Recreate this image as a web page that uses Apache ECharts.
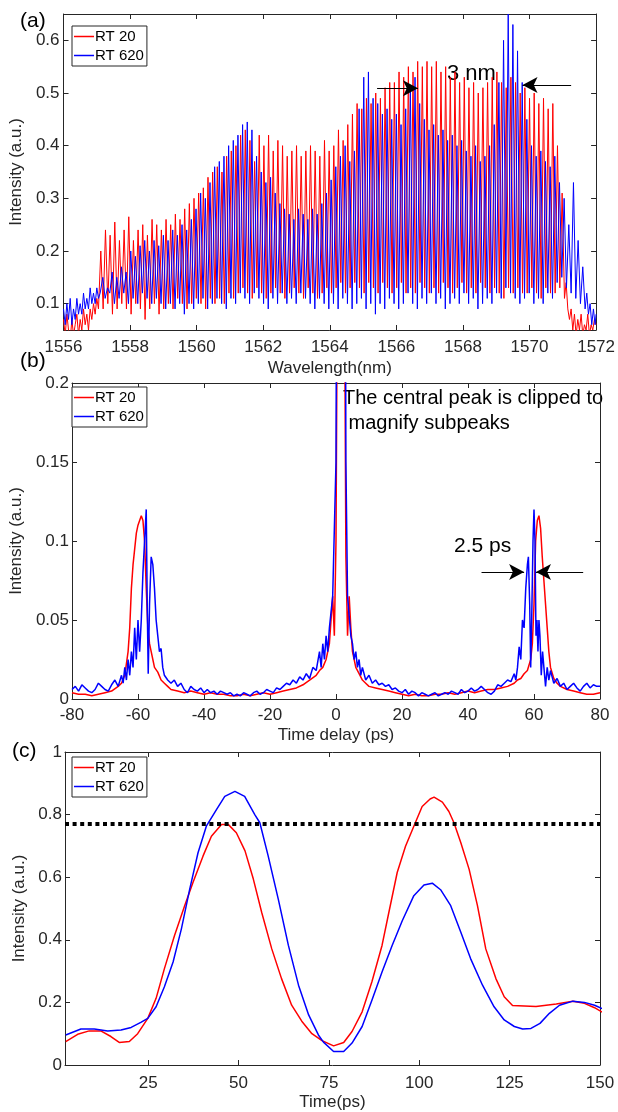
<!DOCTYPE html>
<html>
<head>
<meta charset="utf-8">
<script src="https://cdn.jsdelivr.net/npm/echarts@6/dist/echarts.min.js"></script>
<style>
  html, body { margin: 0; padding: 0; background: #fff; }
  #chart { width: 618px; height: 1112px; }
</style>
</head>
<body>
<div id="chart"></div>
<script>
// ---- (a) spectra: fringe peak / trough heights ----
const FRINGE_STEP = 0.14;          // nm between neighbouring fringes
const redFringeStart = 1557.12;
const blueFringeStart = 1557.18;

const redHead = [[1556.00,0.07],[1556.05,0.04],[1556.10,0.08],[1556.15,0.05],[1556.20,0.03],[1556.25,0.07],[1556.30,0.04],[1556.35,0.06],[1556.40,0.08],[1556.45,0.04],[1556.50,0.07],[1556.55,0.05],[1556.60,0.09],[1556.65,0.06],[1556.70,0.08],[1556.75,0.05],[1556.80,0.09],[1556.85,0.07],[1556.90,0.10],[1556.95,0.08],[1557.00,0.11],[1557.05,0.09]];
const redPeaks = [
  0.20,0.24,0.23,0.255,0.22, 0.24,0.265,0.22,0.24,0.25,
  0.23,0.26,0.25,0.24,0.26, 0.25,0.27,0.26,0.28,0.29,
  0.30,0.31,0.32,0.34,0.35, 0.36,0.35,0.38,0.39,0.40,
  0.42,0.43,0.41,0.37,0.42, 0.40,0.42,0.39,0.41,0.40,
  0.38,0.39,0.40,0.38,0.39, 0.40,0.39,0.38,0.41,0.39,
  0.40,0.43,0.41,0.44,0.46, 0.48,0.47,0.49,0.48,0.50,
  0.49,0.51,0.52,0.52,0.54, 0.53,0.55,0.54,0.56,0.55,
  0.56,0.55,0.56,0.54,0.55, 0.53,0.54,0.52,0.53,0.51,
  0.52,0.50,0.51,0.52,0.53, 0.54,0.52,0.51,0.53,0.52,
  0.50,0.51,0.49,0.50,0.48, 0.49,0.47,0.48,0.40,0.31
];
const redTroughs = [
  0.09,0.10,0.08,0.09,0.10, 0.09,0.08,0.10,0.09,0.07,
  0.09,0.10,0.08,0.09,0.10, 0.09,0.11,0.10,0.09,0.10,
  0.11,0.10,0.09,0.11,0.10, 0.11,0.10,0.12,0.11,0.12,
  0.13,0.12,0.11,0.13,0.12, 0.11,0.12,0.13,0.12,0.11,
  0.12,0.13,0.12,0.11,0.13, 0.12,0.11,0.12,0.13,0.12,
  0.13,0.14,0.12,0.13,0.14, 0.13,0.12,0.14,0.13,0.12,
  0.14,0.13,0.12,0.13,0.14, 0.12,0.13,0.12,0.14,0.13,
  0.12,0.13,0.12,0.14,0.13, 0.12,0.13,0.14,0.12,0.13,
  0.12,0.14,0.13,0.12,0.13, 0.12,0.11,0.13,0.12,0.13,
  0.12,0.12,0.13,0.12,0.11, 0.13,0.12,0.12,0.13,0.11
];
const redTail = [[1571.10,0.14],[1571.15,0.09],[1571.20,0.07],[1571.25,0.09],[1571.30,0.05],[1571.35,0.08],[1571.40,0.04],[1571.45,0.07],[1571.50,0.05],[1571.55,0.08],[1571.60,0.04],[1571.65,0.06],[1571.70,0.05],[1571.75,0.08],[1571.80,0.04],[1571.85,0.06],[1571.90,0.05],[1571.95,0.07],[1572.00,0.06]];

const blueHead = [[1556.00,0.09],[1556.05,0.06],[1556.10,0.10],[1556.15,0.07],[1556.20,0.11],[1556.25,0.06],[1556.30,0.09],[1556.35,0.07],[1556.40,0.11],[1556.45,0.08],[1556.50,0.10],[1556.55,0.08],[1556.60,0.12],[1556.65,0.09],[1556.70,0.11],[1556.75,0.09],[1556.80,0.13],[1556.85,0.10],[1556.90,0.12],[1556.95,0.10],[1557.00,0.13],[1557.05,0.11],[1557.10,0.12]];
const bluePeaks = [
  0.15,0.13,0.16,0.15,0.17, 0.16,0.20,0.19,0.21,0.22,
  0.20,0.22,0.21,0.23,0.22, 0.24,0.23,0.25,0.24,0.26,
  0.28,0.31,0.30,0.33,0.36, 0.37,0.38,0.40,0.41,0.42,
  0.44,0.445,0.43,0.38,0.35, 0.33,0.34,0.31,0.29,0.28,
  0.27,0.26,0.28,0.27,0.26, 0.28,0.27,0.29,0.31,0.335,
  0.36,0.38,0.40,0.37,0.39, 0.47,0.53,0.54,0.49,0.48,
  0.46,0.47,0.45,0.46,0.44, 0.47,0.51,0.53,0.48,0.45,
  0.43,0.44,0.42,0.43,0.41, 0.42,0.40,0.41,0.39,0.38,
  0.40,0.37,0.38,0.40,0.44, 0.52,0.60,0.65,0.63,0.58,
  0.52,0.45,0.40,0.38,0.39, 0.37,0.36,0.38,0.33,0.30,
  0.25,0.33,0.22,0.17
];
const blueTroughs = [
  0.11,0.12,0.10,0.11,0.12, 0.10,0.11,0.10,0.12,0.11,
  0.10,0.11,0.10,0.09,0.10, 0.09,0.10,0.08,0.10,0.09,
  0.10,0.11,0.09,0.10,0.11, 0.10,0.09,0.11,0.10,0.12,
  0.11,0.10,0.12,0.11,0.10, 0.09,0.11,0.10,0.12,0.10,
  0.11,0.10,0.12,0.11,0.10, 0.09,0.11,0.10,0.09,0.10,
  0.09,0.11,0.10,0.09,0.10, 0.11,0.09,0.10,0.08,0.10,
  0.09,0.11,0.10,0.09,0.10, 0.12,0.10,0.09,0.11,0.10,
  0.12,0.10,0.11,0.09,0.10, 0.11,0.10,0.12,0.10,0.11,
  0.09,0.10,0.11,0.10,0.12, 0.11,0.13,0.12,0.11,0.10,
  0.11,0.12,0.10,0.11,0.10, 0.12,0.11,0.14,0.15,0.13,
  0.12,0.11,0.10,0.09
];
const blueTail = [[1571.72,0.12],[1571.77,0.08],[1571.82,0.10],[1571.87,0.06],[1571.92,0.09],[1571.97,0.06],[1572.00,0.08]];

const wavelengthTicks = { min: 1556, max: 1572, interval: 2 };
const spectrumYTicks = [0.1, 0.2, 0.3, 0.4, 0.5, 0.6];
const arrowA = [[1565.42, 0.509, 1566.65, 0.509], [1571.25, 0.515, 1569.79, 0.515]];

// ---- (b) autocorrelation [delay ps, intensity] ----
const redDelay = [[-80,0.004],[-78,0.003],[-76,0.003],[-74,0.002],[-72,0.003],[-70,0.004],[-68,0.005],[-66,0.008],[-65,0.01],[-64,0.015],[-63,0.03],[-62.5,0.045],[-62,0.07],[-61.5,0.085],[-61,0.095],[-60.5,0.105],[-60,0.11],[-59.5,0.113],[-59,0.116],[-58.5,0.113],[-58,0.1],[-57.5,0.07],[-57,0.045],[-56.5,0.035],[-56,0.03],[-55.5,0.025],[-55,0.02],[-54,0.017],[-53,0.012],[-52,0.01],[-51,0.008],[-50,0.006],[-48,0.005],[-46,0.004],[-44,0.005],[-42,0.004],[-40,0.003],[-38,0.004],[-36,0.003],[-34,0.003],[-32,0.002],[-30,0.002],[-28,0.003],[-26,0.002],[-24,0.003],[-22,0.004],[-20,0.003],[-18,0.004],[-16,0.005],[-14,0.006],[-12,0.007],[-10,0.009],[-8,0.012],[-6,0.015],[-5,0.018],[-4,0.02],[-3,0.025],[-2,0.035],[-1.5,0.05],[-1,0.065],[-0.5,0.04],[0,0.1],[0.5,0.3],[1,0.8],[1.5,1],[2,0.8],[2.5,0.3],[3,0.09],[3.5,0.04],[4,0.065],[4.5,0.045],[5,0.03],[6,0.02],[7,0.016],[8,0.012],[9,0.01],[10,0.008],[12,0.007],[14,0.006],[16,0.005],[18,0.004],[20,0.003],[22,0.002],[24,0.003],[26,0.002],[28,0.002],[30,0.003],[32,0.003],[34,0.004],[36,0.003],[38,0.004],[40,0.005],[42,0.004],[44,0.005],[46,0.006],[48,0.006],[50,0.007],[52,0.008],[54,0.01],[55,0.012],[56,0.013],[57,0.016],[58,0.018],[59,0.025],[59.5,0.035],[60,0.06],[60.5,0.1],[61,0.113],[61.5,0.116],[62,0.108],[62.5,0.09],[63,0.075],[63.5,0.06],[64,0.045],[64.5,0.03],[65,0.02],[66,0.013],[67,0.01],[68,0.008],[70,0.006],[72,0.005],[74,0.004],[76,0.003],[78,0.003],[80,0.004]];
const blueDelay = [[-80,0.006],[-79,0.008],[-78,0.005],[-77,0.009],[-76,0.007],[-75,0.005],[-74,0.004],[-73,0.006],[-72,0.01],[-71,0.008],[-70,0.006],[-69,0.005],[-68,0.009],[-67,0.012],[-66,0.008],[-65,0.015],[-64.5,0.01],[-64,0.02],[-63.5,0.012],[-63,0.025],[-62.5,0.015],[-62,0.03],[-61.5,0.02],[-61,0.045],[-60.5,0.025],[-60,0.05],[-59.5,0.03],[-59,0.05],[-58.5,0.08],[-58,0.1],[-57.5,0.12],[-57.2,0.06],[-56.9,0.016],[-56.5,0.06],[-56,0.09],[-55.5,0.085],[-55,0.07],[-54.5,0.05],[-54,0.04],[-53.5,0.03],[-53,0.032],[-52.5,0.02],[-52,0.015],[-51,0.012],[-50,0.01],[-49,0.012],[-48,0.008],[-47,0.01],[-46,0.006],[-45,0.004],[-44,0.008],[-43,0.006],[-42,0.005],[-41,0.007],[-40,0.004],[-39,0.006],[-38,0.004],[-37,0.005],[-36,0.003],[-35,0.005],[-34,0.004],[-33,0.003],[-32,0.004],[-31,0.002],[-30,0.003],[-29,0.002],[-28,0.004],[-27,0.003],[-26,0.002],[-25,0.004],[-24,0.005],[-23,0.003],[-22,0.004],[-21,0.006],[-20,0.005],[-19,0.004],[-18,0.007],[-17,0.006],[-16,0.008],[-15,0.01],[-14,0.009],[-13,0.012],[-12,0.01],[-11,0.014],[-10,0.012],[-9,0.016],[-8,0.013],[-7,0.02],[-6,0.018],[-5,0.03],[-4.5,0.02],[-4,0.035],[-3.5,0.025],[-3,0.04],[-2.5,0.03],[-2,0.045],[-1.5,0.055],[-1,0.065],[-0.5,0.065],[0,0.15],[0.5,0.5],[1,1],[1.5,0.9],[2,1],[2.5,0.6],[3,0.15],[3.5,0.065],[4,0.065],[4.5,0.04],[5,0.035],[5.5,0.025],[6,0.03],[6.5,0.02],[7,0.025],[7.5,0.015],[8,0.02],[9,0.012],[10,0.015],[11,0.01],[12,0.012],[13,0.009],[14,0.01],[15,0.008],[16,0.009],[17,0.006],[18,0.007],[19,0.005],[20,0.004],[21,0.006],[22,0.003],[23,0.005],[24,0.004],[25,0.002],[26,0.004],[27,0.003],[28,0.002],[29,0.003],[30,0.004],[31,0.002],[32,0.003],[33,0.004],[34,0.003],[35,0.005],[36,0.004],[37,0.003],[38,0.006],[39,0.004],[40,0.005],[41,0.007],[42,0.005],[43,0.006],[44,0.008],[45,0.006],[46,0.004],[47,0.003],[48,0.005],[49,0.009],[50,0.008],[51,0.01],[52,0.012],[53,0.011],[54,0.016],[54.5,0.012],[55,0.02],[55.5,0.033],[56,0.025],[56.5,0.05],[57,0.045],[57.5,0.07],[58,0.085],[58.3,0.09],[58.7,0.06],[59,0.02],[59.3,0.05],[59.7,0.1],[60,0.12],[60.3,0.1],[60.6,0.04],[60.9,0.05],[61.2,0.03],[61.5,0.05],[61.8,0.04],[62.2,0.015],[62.6,0.03],[63,0.02],[63.5,0.008],[64,0.02],[64.5,0.012],[65,0.018],[66,0.01],[67,0.013],[68,0.008],[69,0.01],[70,0.006],[71,0.008],[72,0.01],[73,0.007],[74,0.005],[75,0.008],[76,0.01],[77,0.007],[78,0.009],[79,0.008],[80,0.008]];
const delayTicks = { min: -80, max: 80, interval: 20 };
const acfYTicks = { min: 0, max: 0.2, interval: 0.05 };
const arrowB = [[44.1, 0.0804, 57.0, 0.0804], [74.9, 0.0804, 60.6, 0.0804]];

// ---- (c) pulse profiles [time ps, intensity] ----
const redTime = [[2.2,0.075],[5.5,0.098],[8.7,0.109],[11.9,0.109],[14.7,0.091],[17,0.072],[19.8,0.075],[22.1,0.1],[24.9,0.149],[27.2,0.213],[29.5,0.308],[32.3,0.414],[35.1,0.509],[37.4,0.583],[40.2,0.668],[42.5,0.731],[45.3,0.768],[47.2,0.768],[49.4,0.742],[51.8,0.684],[54.1,0.594],[56.4,0.488],[59.2,0.371],[61.9,0.276],[64.7,0.191],[67.5,0.14],[70.3,0.1],[73.1,0.078],[76.3,0.061],[79.1,0.072],[81.4,0.107],[84.2,0.17],[86.9,0.266],[89.7,0.382],[91.6,0.488],[93.9,0.615],[96.2,0.699],[98.5,0.763],[100.8,0.826],[103,0.85],[104.1,0.856],[106.4,0.84],[108.2,0.81],[109.6,0.774],[111.5,0.71],[113.8,0.625],[116.1,0.509],[118.4,0.371],[121.2,0.276],[123.5,0.218],[125.8,0.19],[132.3,0.187],[137.9,0.195],[142.5,0.204],[145.7,0.197],[148.5,0.183],[150.6,0.169]];
const blueTime = [[2.2,0.096],[6.4,0.115],[10.1,0.115],[13.8,0.109],[17.5,0.112],[20.3,0.12],[23.1,0.137],[24.9,0.149],[27.2,0.186],[29.5,0.25],[31.9,0.329],[34.2,0.435],[36.5,0.562],[38.8,0.678],[41.1,0.763],[43.9,0.816],[46.2,0.858],[49,0.874],[51.7,0.858],[54.5,0.8],[55.9,0.774],[58.2,0.668],[61,0.53],[63.8,0.382],[66.6,0.255],[69.4,0.16],[72.1,0.096],[73.5,0.073],[76.3,0.043],[79.1,0.043],[81.4,0.07],[84.2,0.123],[86.9,0.207],[89.7,0.297],[92.5,0.382],[95.3,0.461],[98.5,0.541],[101.3,0.575],[103.6,0.581],[105.9,0.56],[108.7,0.509],[111.5,0.424],[114.2,0.34],[117.5,0.255],[120.7,0.186],[123.5,0.144],[126.3,0.123],[128.6,0.115],[130.9,0.117],[133.4,0.133],[136,0.165],[138.8,0.191],[142.5,0.204],[145.7,0.2],[148.5,0.191],[150.6,0.18]];
const timeXTicks = [25, 50, 75, 100, 125, 150];
const thresholdLevel = 0.768;

const seriesNames = ['RT 20', 'RT 620'];
const RED = '#ff0000', BLUE = '#0000ff', AX = '#262626';
const FONT = '"Liberation Sans", Arial, sans-serif';

function buildSpectrum(head, start, peaks, troughs, tail) {
  const pts = head.slice();
  peaks.forEach((p, i) => {
    const x = start + i * FRINGE_STEP;
    pts.push([+x.toFixed(3), p]);
    if (i < troughs.length) pts.push([+(x + FRINGE_STEP / 2).toFixed(3), troughs[i]]);
  });
  return pts.concat(tail);
}

function axis(gridIndex, position, range, opts) {
  opts = opts || {};
  const ax = {
    type: 'value', gridIndex, position,
    min: range.min, max: range.max,
    axisLine: { show: true, onZero: false, lineStyle: { color: AX, width: 1 } },
    axisTick: { show: true, inside: true, length: 5, lineStyle: { color: AX, width: 1 } },
    axisLabel: { show: !!opts.labels, color: AX, fontSize: 17, fontFamily: FONT, margin: opts.margin || 6,
      formatter: v => String(+v.toFixed(4)) },
    splitLine: { show: false }
  };
  if (range.ticks) {
    ax.axisTick.customValues = range.ticks;
    ax.axisLabel.customValues = range.ticks;
  } else {
    ax.interval = range.interval;
  }
  if (opts.name) {
    ax.name = opts.name;
    ax.nameLocation = 'middle';
    ax.nameGap = opts.nameGap;
    ax.nameTextStyle = { color: AX, fontSize: 17, fontFamily: FONT };
  }
  return ax;
}

function legend(top) {
  return {
    data: seriesNames, orient: 'vertical', left: 72, top,
    icon: 'rect', itemWidth: 20, itemHeight: 1.5, itemGap: 4,
    padding: [3, 3, 3, 2], borderColor: AX, borderWidth: 1, backgroundColor: '#fff',
    textStyle: { fontSize: 15, color: '#000', fontFamily: FONT, padding: [0, 0, 0, -4] }
  };
}

function arrows(list) {
  return {
    silent: true, animation: false, symbol: ['none', 'arrow'], symbolSize: [12, 15],
    label: { show: false },
    lineStyle: { color: '#000', width: 1.2, type: 'solid' },
    data: list.map(a => [{ coord: [a[0], a[1]] }, { coord: [a[2], a[3]] }])
  };
}

function text(x, y, str, size) {
  return { type: 'text', x, y, style: { text: str, font: size + 'px ' + FONT, fill: '#000', verticalAlign: 'middle' } };
}

const wlY = { min: 0.05, max: 0.65, ticks: spectrumYTicks };
const timeX = { min: 2, max: 150, ticks: timeXTicks };
const profY = { min: 0, max: 1, interval: 0.2 };

const chart = echarts.init(document.getElementById('chart'));
chart.setOption({
  animation: false,
  backgroundColor: '#fff',
  grid: [
    { left: 62, top: 14, width: 535, height: 316 },
    { left: 65, top: 383, width: 535, height: 316 },
    { left: 65, top: 752, width: 535, height: 315 }
  ],
  xAxis: [
    axis(0, 'bottom', wavelengthTicks, { labels: true, margin: 9, name: 'Wavelength(nm)', nameGap: 30 }),
    axis(0, 'top', wavelengthTicks),
    axis(1, 'bottom', delayTicks, { labels: true, margin: 8, name: 'Time delay (ps)', nameGap: 28 }),
    axis(1, 'top', delayTicks),
    axis(2, 'bottom', timeX, { labels: true, margin: 10, name: 'Time(ps)', nameGap: 29 }),
    axis(2, 'top', timeX)
  ],
  yAxis: [
    axis(0, 'left', wlY, { labels: true, margin: 4, name: 'Intensity (a.u.)', nameGap: 31 }),
    axis(0, 'right', wlY),
    axis(1, 'left', acfYTicks, { labels: true, margin: 3, name: 'Intensity (a.u.)', nameGap: 38 }),
    axis(1, 'right', acfYTicks),
    axis(2, 'left', profY, { labels: true, margin: 3, name: 'Intensity (a.u.)', nameGap: 30 }),
    axis(2, 'right', profY)
  ],
  legend: [legend(26), legend(387), legend(757)],
  graphic: [
    text(20, 21, '(a)', 21),
    text(20, 361, '(b)', 21),
    text(12, 751, '(c)', 21),
    text(447, 74, '3 nm', 22),
    text(343, 398, 'The central peak is clipped to', 20),
    text(343, 423, ' magnify subpeaks', 20),
    text(454, 546, '2.5 ps', 21)
  ],
  series: [
    { name: seriesNames[0], type: 'line', xAxisIndex: 0, yAxisIndex: 0, showSymbol: false, symbol: 'none',
      data: buildSpectrum(redHead, redFringeStart, redPeaks, redTroughs, redTail),
      lineStyle: { color: RED, width: 1 }, itemStyle: { color: RED }, markLine: arrows(arrowA) },
    { name: seriesNames[1], type: 'line', xAxisIndex: 0, yAxisIndex: 0, showSymbol: false, symbol: 'none',
      data: buildSpectrum(blueHead, blueFringeStart, bluePeaks, blueTroughs, blueTail),
      lineStyle: { color: BLUE, width: 1 }, itemStyle: { color: BLUE } },
    { name: seriesNames[0], type: 'line', xAxisIndex: 2, yAxisIndex: 2, showSymbol: false, symbol: 'none',
      data: redDelay, lineStyle: { color: RED, width: 1.5 }, itemStyle: { color: RED } },
    { name: seriesNames[1], type: 'line', xAxisIndex: 2, yAxisIndex: 2, showSymbol: false, symbol: 'none',
      data: blueDelay, lineStyle: { color: BLUE, width: 1.5 }, itemStyle: { color: BLUE }, markLine: arrows(arrowB) },
    { name: seriesNames[0], type: 'line', xAxisIndex: 4, yAxisIndex: 4, showSymbol: false, symbol: 'none',
      data: redTime, lineStyle: { color: RED, width: 1.5 }, itemStyle: { color: RED } },
    { name: seriesNames[1], type: 'line', xAxisIndex: 4, yAxisIndex: 4, showSymbol: false, symbol: 'none',
      data: blueTime, lineStyle: { color: BLUE, width: 1.5 }, itemStyle: { color: BLUE },
      markLine: {
        silent: true, animation: false, symbol: ['none', 'none'], label: { show: false },
        lineStyle: { color: '#000', width: 4, type: [4, 3.6] },
        data: [{ yAxis: thresholdLevel }]
      } }
  ]
});
</script>
</body>
</html>
